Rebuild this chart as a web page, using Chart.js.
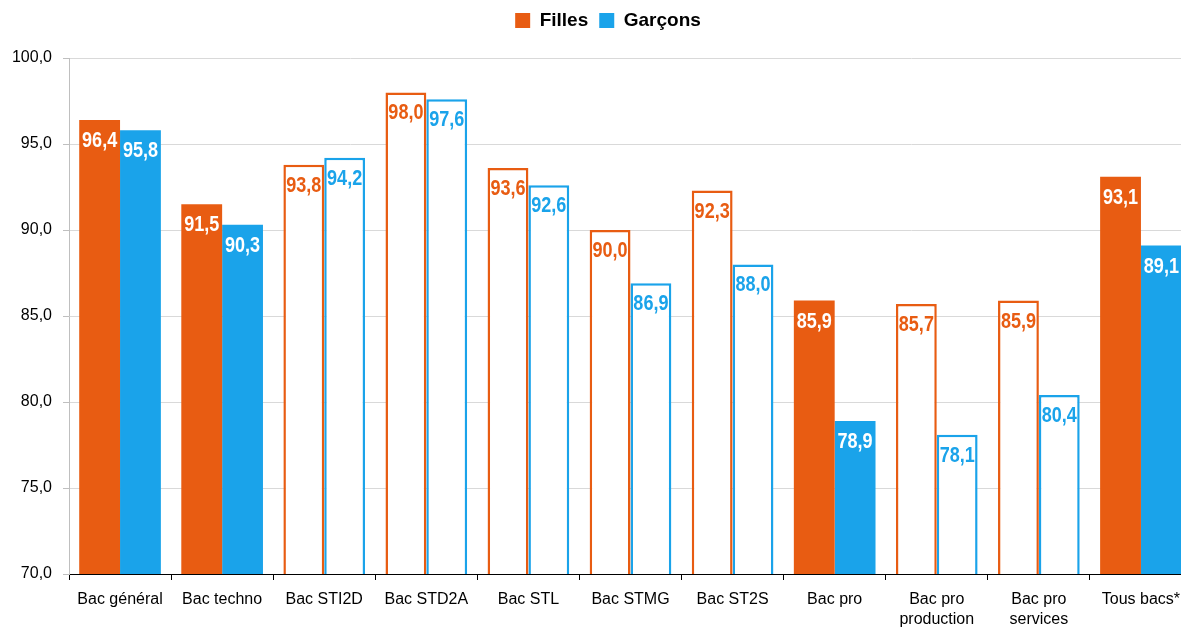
<!DOCTYPE html>
<html lang="fr">
<head>
<meta charset="UTF-8">
<title>Taux de réussite au bac</title>
<script src="https://cdn.jsdelivr.net/npm/chart.js"></script>
<style>
    html, body { margin: 0; padding: 0; background: #fff; overflow: hidden; }
    .wrap { width: 1193px; height: 629px; }
</style>
</head>
<body>
<div class="wrap"><canvas id="chart" width="1193" height="629"></canvas></div>
<script>
// ---------- données ----------
const categories = ['Bac général', 'Bac techno', 'Bac STI2D', 'Bac STD2A', 'Bac STL', 'Bac STMG',
    'Bac ST2S', 'Bac pro', ['Bac pro', 'production'], ['Bac pro', 'services'], 'Tous bacs*'];
const filles = [96.4, 91.5, 93.8, 98.0, 93.6, 90.0, 92.3, 85.9, 85.7, 85.9, 93.1];
const garcons = [95.8, 90.3, 94.2, 97.6, 92.6, 86.9, 88.0, 78.9, 78.1, 80.4, 89.1];
// barres pleines (agrégats) ou seulement contour
const filled = [true, true, false, false, false, false, false, true, false, false, true];

const ORANGE = '#e85c12';
const BLUE = '#1aa3ea';
const SANS = "'Liberation Sans', Arial, sans-serif";

const fmt = v => v.toFixed(1).replace('.', ',');

function makeDataset(label, values, color) {
    return {
        label: label,
        data: values,
        backgroundColor: filled.map(f => f ? color : '#ffffff'),
        borderColor: color,
        borderWidth: filled.map(f => f ? 0 : 2.5),
        borderSkipped: 'start',
        categoryPercentage: 0.8,
        barPercentage: 1.0
    };
}

// étiquettes de valeur en haut des barres (police étroite simulée)
const valueLabels = {
    id: 'valueLabels',
    afterDatasetsDraw(chart) {
        const ctx = chart.ctx;
        const sx = 0.82;
        ctx.save();
        ctx.font = 'bold 22px ' + SANS;
        ctx.textAlign = 'center';
        ctx.textBaseline = 'middle';
        chart.data.datasets.forEach((ds, i) => {
            const meta = chart.getDatasetMeta(i);
            meta.data.forEach((bar, j) => {
                ctx.save();
                ctx.translate(bar.x, bar.y + 21);
                ctx.scale(sx, 1);
                ctx.fillStyle = filled[j] ? '#ffffff' : ds.borderColor;
                ctx.fillText(fmt(ds.data[j]), 0, 0);
                ctx.restore();
            });
        });
        ctx.restore();
    }
};

// espace sous la légende + léger décalage à droite
const legendMargin = {
    id: 'legendMargin',
    beforeInit(chart) {
        const fit = chart.legend.fit;
        chart.legend.fit = function () {
            fit.bind(chart.legend)();
            this.height += 18;
        };
    },
    afterLayout(chart) {
        chart.legend.left += 12;
        chart.legend.right += 12;
    }
};

new Chart(document.getElementById('chart'), {
    type: 'bar',
    data: {
        labels: categories,
        datasets: [
            makeDataset('Filles', filles, ORANGE),
            makeDataset('Garçons', garcons, BLUE)
        ]
    },
    options: {
        responsive: false,
        animation: false,
        layout: { padding: { left: 0, right: 1, top: 0, bottom: 0 } },
        plugins: {
            legend: {
                position: 'top',
                labels: {
                    color: '#000',
                    boxWidth: 15,
                    boxHeight: 15,
                    padding: 11,
                    font: { family: SANS, size: 19, weight: 'bold' },
                    generateLabels(chart) {
                        return chart.data.datasets.map((ds, i) => ({
                            text: ds.label,
                            fillStyle: ds.borderColor,
                            strokeStyle: ds.borderColor,
                            lineWidth: 0,
                            fontColor: '#000',
                            datasetIndex: i
                        }));
                    }
                }
            },
            tooltip: { enabled: false }
        },
        scales: {
            x: {
                afterFit(scale) { scale.height = 55; },
                grid: {
                    display: true,
                    drawOnChartArea: false,
                    drawTicks: true,
                    tickLength: 6,
                    color: '#000'
                },
                border: { color: '#000', width: 1 },
                ticks: {
                    color: '#000',
                    padding: 10,
                    maxRotation: 0,
                    autoSkip: false,
                    font: { family: SANS, size: 16, lineHeight: 1.25 }
                }
            },
            y: {
                min: 70,
                max: 100,
                afterFit(scale) { scale.width = 69; },
                grid: {
                    color: '#d9d9d9',
                    tickLength: 6,
                    tickColor: '#bfbfbf'
                },
                border: { color: '#bfbfbf', width: 1 },
                ticks: {
                    stepSize: 5,
                    color: '#000',
                    padding: 11,
                    font: { family: SANS, size: 16 },
                    callback: v => fmt(v)
                }
            }
        }
    },
    plugins: [valueLabels, legendMargin]
});
</script>
</body>
</html>
